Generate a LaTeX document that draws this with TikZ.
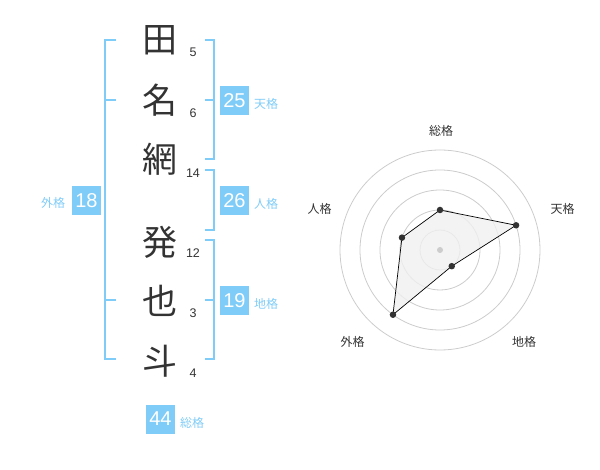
\documentclass[tikz,border=0pt]{standalone}
\usepackage{fontspec}
\setmainfont{Liberation Sans}
\newfontfamily\cjk{Noto Sans CJK JP}
\usepackage{xcolor}
\usetikzlibrary{calc}
\definecolor{kakublue}{RGB}{128,204,248}
\definecolor{moji}{RGB}{51,51,51}
\definecolor{wa}{RGB}{204,204,204}

\begin{document}
\begin{tikzpicture}[x=1pt,y=-1pt,
    kanji/.style={font=\cjk\fontsize{35}{35}\selectfont,text=moji,inner sep=0pt},
    kakusu/.style={font=\fontsize{12.5}{12.5}\selectfont,text=moji,inner sep=0pt},
    kakubox/.style={fill=kakublue,text=white,minimum width=29pt,minimum height=29pt,inner sep=0pt,font=\fontsize{20}{20}\selectfont},
    kakuname/.style={font=\cjk\fontsize{12}{12}\selectfont,text=kakublue,inner sep=0pt},
    radarname/.style={font=\cjk\fontsize{12}{12}\selectfont,text=moji,inner sep=0pt},
    bracket/.style={draw=kakublue,line width=2pt},
    dot/.style={circle,fill=moji,inner sep=0pt,minimum size=6.5pt}]
            \useasboundingbox (0,0) rectangle (600,470);

            % name
            \node[kanji] (k1) at (160,40) {田};
            \node[kanji] (k2) at (160,100) {名};
            \node[kanji] (k3) at (160,159) {網};
            \node[kanji] (k4) at (160,242) {発};
            \node[kanji] (k5) at (160,301) {也};
            \node[kanji] (k6) at (160,361) {斗};

            \node[kakusu] (n1) at (193,52) {5};
            \node[kakusu] (n2) at (193,113) {6};
            \node[kakusu] (n3) at (193,173) {14};
            \node[kakusu] (n4) at (193,253) {12};
            \node[kakusu] (n5) at (193,313) {3};
            \node[kakusu] (n6) at (193,373) {4};

            % brackets
            \draw[bracket] (116,40) -- (105,40) -- (105,359) -- (116,359);
            \draw[bracket] (105,100) -- (116,100);
            \draw[bracket] (105,300) -- (116,300);

            \draw[bracket] (205,40) -- (214,40) -- (214,159) -- (205,159);
            \draw[bracket] (214,100) -- (205,100);
            \draw[bracket] (205,170) -- (214,170) -- (214,230) -- (205,230);
            \draw[bracket] (205,240) -- (214,240) -- (214,359) -- (205,359);
            \draw[bracket] (214,300) -- (205,300);

            % kaku
            \node[kakubox] (ten) at (234.5,100.5) {25};
            \node[kakuname] (tenname) at (266,104) {天格};
            \node[kakubox] (jin) at (234.5,200.5) {26};
            \node[kakuname] (jinname) at (266,204) {人格};
            \node[kakubox] (chi) at (234.5,300.5) {19};
            \node[kakuname] (chiname) at (266,304) {地格};
            \node[kakubox] (gai) at (86.5,200.5) {18};
            \node[kakuname] (gainame) at (53,203) {外格};
            \node[kakubox] (so) at (160.5,419) {44};
            \node[kakuname] (soname) at (192,423) {総格};

            % radar
            \coordinate (c) at (440,250);
            \foreach \r in {20,40,60,80,100}
                \draw[wa,line width=0.8pt] (c) circle (\r pt);

            \coordinate (s1) at ($(c)+(-90:40)$);
            \coordinate (s2) at ($(c)+(-18:80)$);
            \coordinate (s3) at ($(c)+(54:20)$);
            \coordinate (s4) at ($(c)+(126:80)$);
            \coordinate (s5) at ($(c)+(198:40)$);
            \draw[black,line width=0.7pt,fill=black!6,fill opacity=0.8] (s1) -- (s2) -- (s3) -- (s4) -- (s5) -- cycle;
            \fill[wa] (c) circle (3pt);
            \node[dot] (d1) at (s1) {};
            \node[dot] (d2) at (s2) {};
            \node[dot] (d3) at (s3) {};
            \node[dot] (d4) at (s4) {};
            \node[dot] (d5) at (s5) {};

            \node[radarname] (r1) at (441,130.5) {総格};
            \node[radarname] (r2) at (562.5,208.5) {天格};
            \node[radarname] (r3) at (524,342) {地格};
            \node[radarname] (r4) at (352.5,342) {外格};
            \node[radarname] (r5) at (319.5,208.5) {人格};
        \end{tikzpicture}
\end{document}
